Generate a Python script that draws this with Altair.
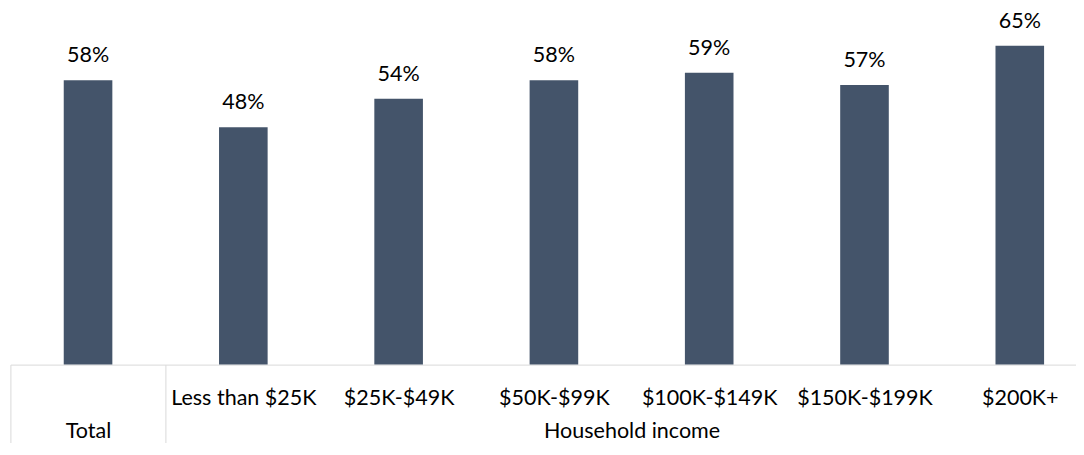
import altair as alt
import pandas as pd

# ---- data ----
categories = ["Total", "Less than $25K", "$25K-$49K", "$50K-$99K",
              "$100K-$149K", "$150K-$199K", "$200K+"]
values = [57.9, 48.3, 54.1, 57.9, 59.4, 56.9, 64.9]
group_labels = ["Total", "Household income"]

df = pd.DataFrame({
    "idx": list(range(len(categories))),
    "category": categories,
    "value": values,
})
df["label"] = df["value"].round().astype(int).astype(str) + "%"

# axis positions (category index units)
income_idx = list(range(1, len(categories)))
group_mid = sum(income_idx) / len(income_idx)
separators = [-0.5, 0.5]
axis_values = separators + [0] + income_idx + [group_mid]

parts = []
for i in income_idx:
    parts.append(f"datum.value == {i} ? '{categories[i]}'")
parts.append(f"datum.value == 0 ? '{group_labels[0]}'")
parts.append(f"datum.value == {group_mid} ? '{group_labels[1]}'")
label_expr = " : ".join(parts) + " : ''"

sep_test = " || ".join(f"datum.value == {s}" for s in separators)
group_test = f"datum.value == 0 || datum.value == {group_mid}"

FONT = "Lato"
FS = 21.5
GRAY = "#d9d9d9"
TICK = 79

x_enc = alt.X(
    "idx:Q",
    scale=alt.Scale(domain=[-0.5, 6.362], nice=False, zero=False, padding=0),
    axis=alt.Axis(
        values=axis_values,
        labelExpr=label_expr,
        title="",
        grid=False,
        domain=True,
        domainColor=GRAY,
        domainWidth=1,
        ticks=True,
        tickSize=TICK,
        tickColor=GRAY,
        tickWidth=1,
        tickOpacity={"condition": {"test": sep_test, "value": 1}, "value": 0},
        labelPadding={"condition": {"test": group_test, "value": 73.0 - TICK},
                      "value": 39.7 - TICK},
        labelBaseline="alphabetic",
        labelAlign="center",
        labelFont=FONT,
        labelFontSize=FS,
        labelColor="#000000",
        labelFlush=False,
        labelOverlap=False,
        labelBound=False,
    ),
)

y_enc = alt.Y(
    "value:Q",
    scale=alt.Scale(domain=[0, 72.6], nice=False, zero=True, padding=0),
    axis=alt.Axis(labels=False, ticks=False, domain=False, grid=False, title=""),
)

base = alt.Chart(df)

bars = base.mark_bar(color="#44546A", width=48.6).encode(x=x_enc, y=y_enc)

texts = base.mark_text(
    font=FONT, fontSize=FS, color="#000000", baseline="alphabetic",
    align="center", dy=-18,
).encode(x=x_enc, y=y_enc, text="label:N")

chart = (
    alt.layer(bars, texts)
    .properties(
        width=1065.6,
        height=356.6,
        autosize=alt.AutoSizeParams(type="none"),
        padding={"left": 2.4, "top": 0, "right": 0, "bottom": 78.4},
        background="white",
    )
    .configure_view(strokeWidth=0)
)

chart.save("out.html", embed_options={"renderer": "svg", "actions": False})
